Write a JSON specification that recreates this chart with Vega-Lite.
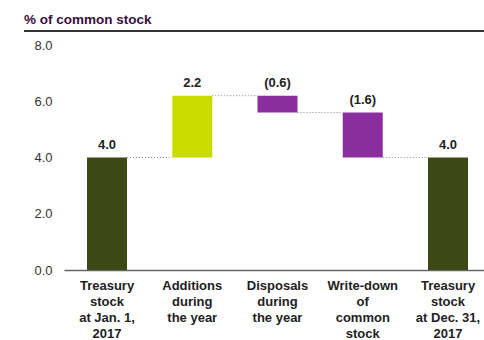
{
  "$schema": "https://vega.github.io/schema/vega-lite/v6.json",
  "autosize": "none",
  "width": 460,
  "height": 239,
  "padding": {"left": 24, "top": 31, "right": 0, "bottom": 70},
  "background": "white",
  "config": {"view": {"stroke": null}, "font": "Liberation Sans"},
  "title": {
    "text": "% of common stock",
    "anchor": "start",
    "frame": "group",
    "font": "Liberation Sans",
    "fontSize": 13.5,
    "fontWeight": "bold",
    "color": "#3b0f3b",
    "baseline": "alphabetic",
    "offset": 9,
    "dy": 16
  },
  "data": {
    "values": [
      {"cat": "Treasury|stock|at Jan. 1,|2017", "start": 0, "end": 4.0, "top": 4.0, "txt": "4.0", "kind": "total", "next": "Additions|during|the year"},
      {"cat": "Additions|during|the year", "start": 4.0, "end": 6.2, "top": 6.2, "txt": "2.2", "kind": "increase", "next": "Disposals|during|the year"},
      {"cat": "Disposals|during|the year", "start": 6.2, "end": 5.6, "top": 6.2, "txt": "(0.6)", "kind": "decrease", "next": "Write-down|of|common|stock"},
      {"cat": "Write-down|of|common|stock", "start": 5.6, "end": 4.0, "top": 5.6, "txt": "(1.6)", "kind": "decrease", "next": "Treasury|stock|at Dec. 31,|2017"},
      {"cat": "Treasury|stock|at Dec. 31,|2017", "start": 0, "end": 4.0, "top": 4.0, "txt": "4.0", "kind": "total", "next": null}
    ]
  },
  "encoding": {
    "x": {
      "field": "cat",
      "type": "nominal",
      "sort": null,
      "scale": {
        "domain": ["Treasury|stock|at Jan. 1,|2017", "Additions|during|the year", "Disposals|during|the year", "Write-down|of|common|stock", "Treasury|stock|at Dec. 31,|2017"],
        "range": [40, 467],
        "paddingInner": 0.5308,
        "paddingOuter": 0.2698
      },
      "axis": {
        "title": null,
        "labelAngle": 0,
        "labelExpr": "split(datum.label, '|')",
        "labelFont": "Liberation Sans",
        "labelFontSize": 13,
        "labelFontWeight": "bold",
        "labelColor": "#222222",
        "labelLineHeight": 16,
        "labelBaseline": "top",
        "labelPadding": 9,
        "ticks": false,
        "tickSize": 0,
        "domainColor": "#666666",
        "domainWidth": 1.5,
        "labelLimit": 200
      }
    }
  },
  "layer": [
    {
      "mark": {"type": "rule", "color": "#333333", "strokeWidth": 2},
      "encoding": {"y": {"datum": 8.5, "type": "quantitative"}, "x": null}
    },
    {
      "transform": [{"filter": "datum.next != null"}],
      "mark": {"type": "rule", "color": "#888888", "strokeWidth": 1, "strokeDash": [1, 2]},
      "encoding": {
        "x": {"field": "cat", "type": "nominal", "bandPosition": 1},
        "x2": {"field": "next", "bandPosition": 0},
        "y": {"field": "end", "type": "quantitative"}
      }
    },
    {
      "mark": {"type": "bar"},
      "encoding": {
        "y": {
          "field": "start",
          "type": "quantitative",
          "scale": {"domain": [0, 8.5], "nice": false},
          "axis": {
            "title": null,
            "values": [0, 2, 4, 6, 8],
            "format": ".1f",
            "grid": false,
            "domain": false,
            "ticks": false,
            "tickSize": 0,
            "labelPadding": -28,
            "labelFont": "Liberation Sans",
            "labelFontSize": 13,
            "labelColor": "#333333"
          }
        },
        "y2": {"field": "end"},
        "color": {
          "field": "kind",
          "type": "nominal",
          "legend": null,
          "scale": {"domain": ["total", "increase", "decrease"], "range": ["#3c4815", "#c8dc00", "#8a2d9e"]}
        }
      }
    },
    {
      "mark": {"type": "text", "dy": -6, "baseline": "bottom", "font": "Liberation Sans", "fontSize": 13, "fontWeight": "bold", "color": "#222222"},
      "encoding": {
        "y": {"field": "top", "type": "quantitative"},
        "text": {"field": "txt"}
      }
    }
  ]
}
